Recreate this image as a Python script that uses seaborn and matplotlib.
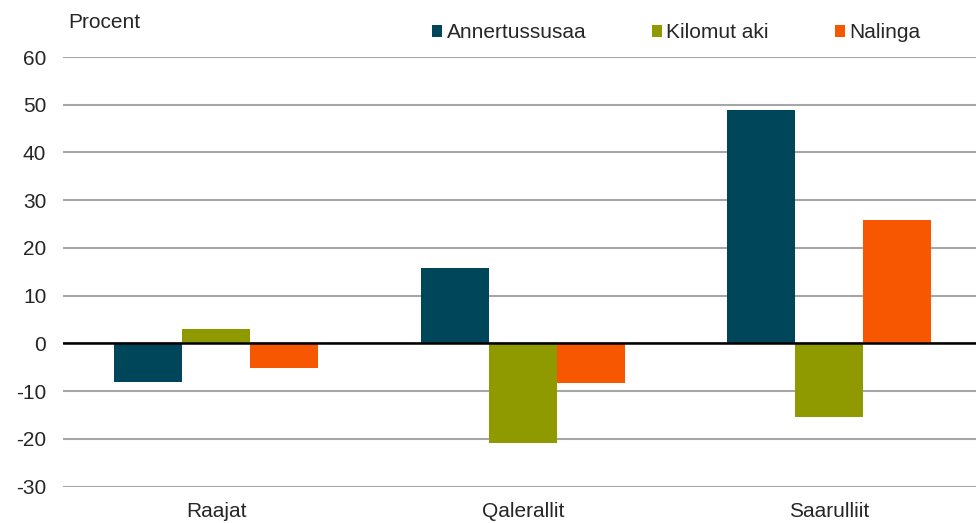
import pandas as pd
import seaborn as sns
import matplotlib.pyplot as plt

categories = ["Raajat", "Qalerallit", "Saarulliit"]
series = ["Annertussusaa", "Kilomut aki", "Nalinga"]
annertussusaa = [-8.0, 15.8, 48.8]
kilomut_aki = [3.1, -20.8, -15.4]
nalinga = [-5.2, -8.3, 25.9]
colors = ["#00465A", "#8F9A00", "#F75700"]

df = pd.DataFrame({
    "kategori": categories * 3,
    "serie": [s for s in series for _ in categories],
    "procent": annertussusaa + kilomut_aki + nalinga,
})

sns.set_style("white")
plt.rcParams["font.family"] = ["Liberation Sans", "DejaVu Sans"]
plt.rcParams["axes.unicode_minus"] = False
fs = 15

fig = plt.figure(figsize=(9.76, 5.23), dpi=100)
ax = fig.add_axes([63 / 976, 0.0694, (976 - 63) / 976, 0.8216])

sns.barplot(data=df, x="kategori", y="procent", hue="serie", order=categories,
            hue_order=series, palette=colors, width=0.666, saturation=1,
            edgecolor="none", linewidth=0, ax=ax, zorder=3)

ax.set_ylim(-30, 60)
ax.set_xlim(-0.5, 2.479)
ax.set_yticks(range(-30, 61, 10))
ax.yaxis.grid(True, color="#a6a6a6", linewidth=1.5, zorder=0)
ax.set_axisbelow(True)
ax.axhline(0, color="black", linewidth=1.8, zorder=4)
for s in ax.spines.values():
    s.set_visible(False)
ax.tick_params(axis="y", length=0, pad=12, labelsize=fs)
ax.tick_params(axis="x", length=0, pad=11, labelsize=fs)
ax.set_xlabel("")
ax.set_ylabel("")

fig.text(68 / 976, 1 - 22 / 523, "Procent", fontsize=fs, va="center", ha="left")

ax.legend(loc="center left", bbox_to_anchor=(432 / 976, 1 - 33 / 523),
          bbox_transform=fig.transFigure, ncol=3, frameon=False, fontsize=fs,
          handlelength=0.5, handleheight=0.5, handletextpad=0.2,
          columnspacing=3.15, borderpad=0, borderaxespad=0)

fig.savefig("out.png", dpi=100)
